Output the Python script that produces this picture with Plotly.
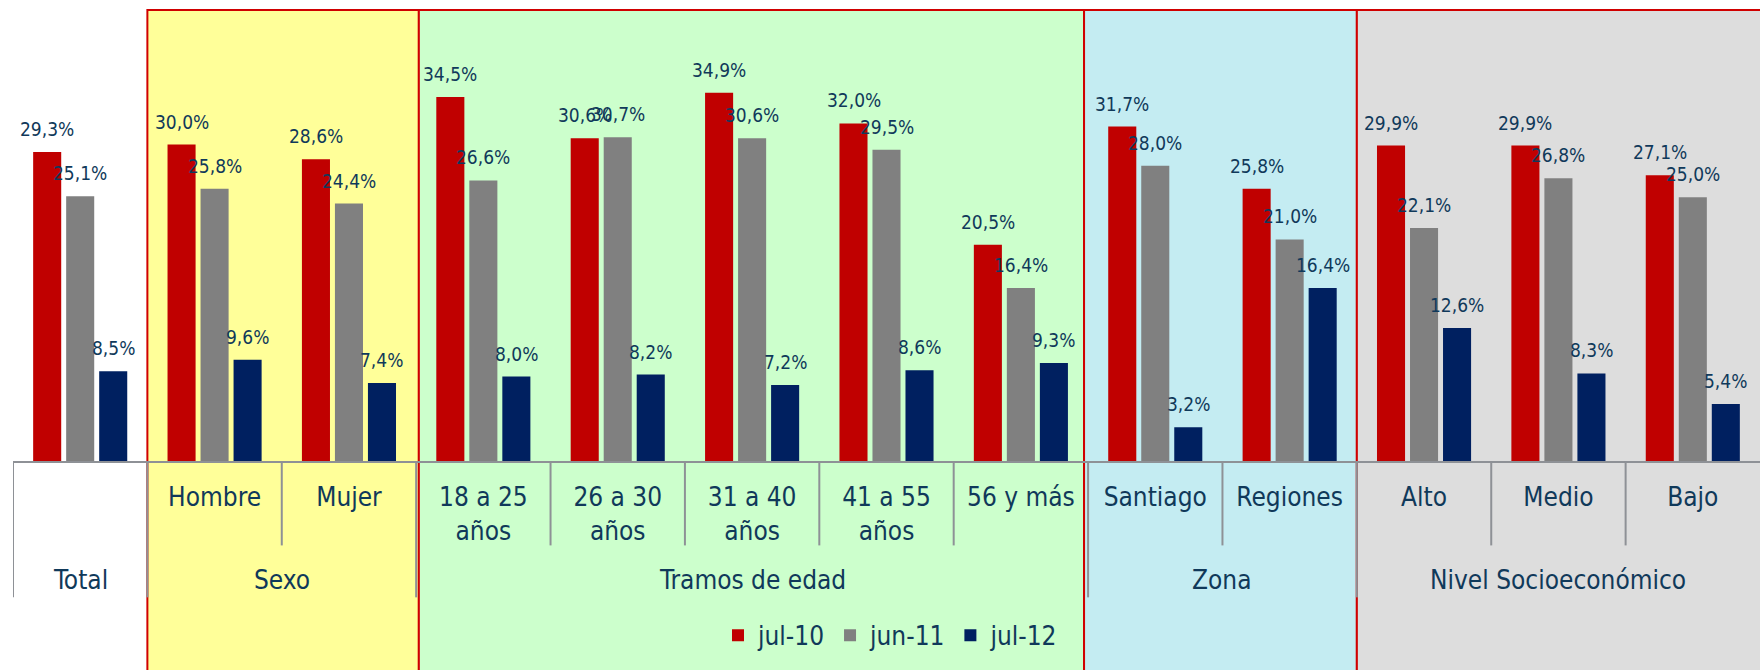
import plotly.graph_objects as go

categories = ["Total", "Hombre", "Mujer", "18 a 25 años", "26 a 30 años", "31 a 40 años",
              "41 a 55 años", "56 y más", "Santiago", "Regiones", "Alto", "Medio", "Bajo"]
tick_labels = ["", "Hombre", "Mujer", "18 a 25<br>años", "26 a 30<br>años", "31 a 40<br>años",
               "41 a 55<br>años", "56 y más", "Santiago", "Regiones", "Alto", "Medio", "Bajo"]
series_names = ["jul-10", "jun-11", "jul-12"]
jul10 = [29.3, 30.0, 28.6, 34.5, 30.6, 34.9, 32.0, 20.5, 31.7, 25.8, 29.9, 29.9, 27.1]
jun11 = [25.1, 25.8, 24.4, 26.6, 30.7, 30.6, 29.5, 16.4, 28.0, 21.0, 22.1, 26.8, 25.0]
jul12 = [8.5, 9.6, 7.4, 8.0, 8.2, 7.2, 8.6, 9.3, 3.2, 16.4, 12.6, 8.3, 5.4]
groups = ["Total", "Sexo", "Tramos de edad", "Zona", "Nivel Socioeconómico"]
group_spans = [(0, 0), (1, 2), (3, 7), (8, 9), (10, 12)]

colors = ["#C00000", "#808080", "#002060"]
box_fills = [None, "#FFFF99", "#CCFFCC", "#C4ECF2", "#DDDDDD"]
TXT = "#10395A"
FONT = "DejaVu Sans Condensed, Liberation Sans, sans-serif"

W, H = 1760, 670
ML, MR, MT = 13, 0, 0
BASE_Y = 461.5
MB = H - BASE_Y
PH = BASE_Y - MT
YMAX = PH / 10.56

def py(px):
    """pixel y (from top) -> paper y"""
    return (BASE_Y - px) / PH

fig = go.Figure()
all_vals = [jul10, jun11, jul12]
for name, vals, col in zip(series_names, all_vals, colors):
    fig.add_trace(go.Bar(x=categories, y=vals, name=name, marker=dict(color=col, line=dict(width=0))))

# data labels
offsets = [-33, 0, 33]
for vals, off in zip(all_vals, offsets):
    for c, v in zip(categories, vals):
        fig.add_annotation(x=c, y=v, xref="x", yref="y", text=f"{v:.1f}".replace(".", ",") + "%",
                           showarrow=False, xshift=off, yshift=10, yanchor="bottom",
                           font=dict(family=FONT, size=19, color=TXT))

shapes = []
# group background boxes
box_edges = [(-0.5, 0.5), (0.5, 2.52), (2.52, 7.47), (7.47, 9.5), (9.5, 13.5)]
for (x0, x1), fill in zip(box_edges, box_fills):
    if fill is None:
        continue
    shapes.append(dict(type="rect", xref="x", yref="paper", x0=x0, x1=x1,
                       y0=py(H + 20), y1=py(10), fillcolor=fill,
                       line=dict(color="#D00000", width=2), layer="below"))
# divider ticks
long_b = [-0.5, 0.5, 2.5, 7.5, 9.5]
short_b = [1.5, 3.5, 4.5, 5.5, 6.5, 8.5, 10.5, 11.5]
for b in long_b:
    shapes.append(dict(type="line", xref="x", yref="paper", x0=b, x1=b, y0=0, y1=py(598),
                       line=dict(color="#8E9196", width=2)))
for b in short_b:
    shapes.append(dict(type="line", xref="x", yref="paper", x0=b, x1=b, y0=0, y1=py(546),
                       line=dict(color="#8E9196", width=2)))

# group labels
for g, (a, b) in zip(groups, group_spans):
    fig.add_annotation(x=(a + b) / 2, y=py(581), xref="x", yref="paper", text=g, showarrow=False,
                       yanchor="middle", font=dict(family=FONT, size=26, color=TXT))

fig.update_layout(
    width=W, height=H,
    margin=dict(l=ML, r=MR, t=MT, b=MB, autoexpand=False),
    paper_bgcolor="white", plot_bgcolor="rgba(0,0,0,0)",
    barmode="group", bargap=0.263, bargroupgap=0.15,
    shapes=shapes,
    showlegend=True,
    legend=dict(orientation="h", x=(718 - ML) / (W - ML - MR), xanchor="left",
                y=py(636), yanchor="middle", bgcolor="rgba(0,0,0,0)",
                font=dict(family=FONT, size=26, color=TXT), traceorder="normal"),
    font=dict(family=FONT, color=TXT),
)
fig.update_xaxes(type="category", range=[-0.5, 12.5], tickmode="array",
                 tickvals=categories, ticktext=tick_labels, ticks="",
                 tickfont=dict(family=FONT, size=26, color=TXT), ticklabelstandoff=12,
                 showline=True, linecolor="#8E9196", linewidth=2, showgrid=False, zeroline=False,
                 fixedrange=True)
fig.update_yaxes(range=[0, YMAX], visible=False, showgrid=False, zeroline=False, fixedrange=True)

fig.write_html("out.html", config={"displayModeBar": False},
               post_script="document.body.style.margin='0px';document.body.style.overflow='hidden';")
